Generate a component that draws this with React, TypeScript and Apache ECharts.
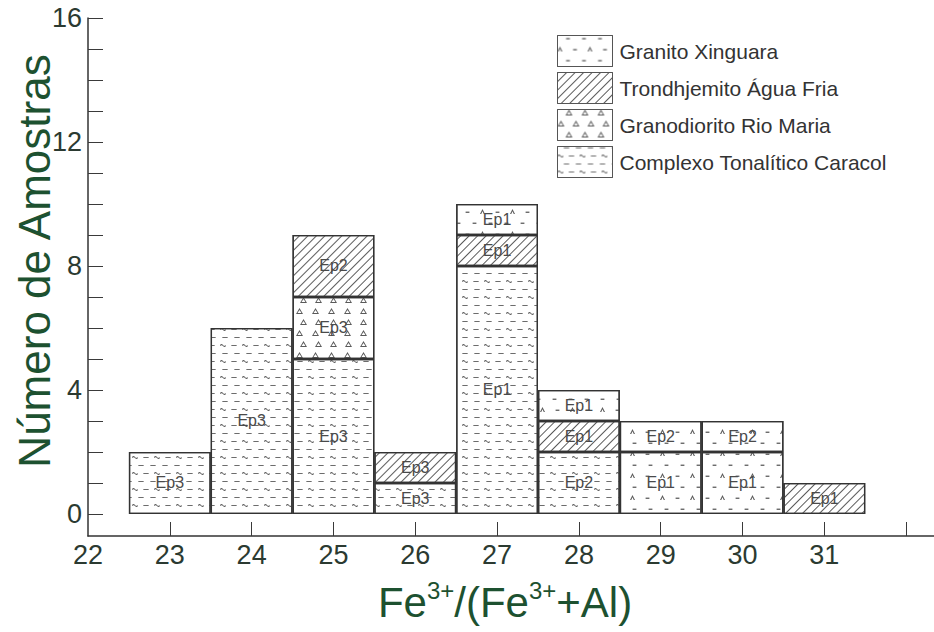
import React, { useEffect, useRef } from 'react';
import * as echarts from 'echarts';

// ---- data ----
const bins = ['23', '24', '25', '26', '27', '28', '29', '30', '31'];
const xLabelValues = [22, 23, 24, 25, 26, 27, 28, 29, 30, 31];
const xTickValues = [23, 24, 25, 26, 27, 28, 29, 30, 31, 32];
const yLabelValues = [0, 4, 8, 12, 16];
const yTickValues = [0, 1, 2, 3, 4, 5, 6, 7, 8, 9, 10, 11, 12, 13, 14, 15, 16];

const legendNames = [
  'Granito Xinguara',
  'Trondhjemito Água Fria',
  'Granodiorito Rio Maria',
  'Complexo Tonalítico Caracol',
];

const caracolCounts = [2, 6, 5, 1, 8, 2, null, null, null];
const caracolLabels = ['Ep3', 'Ep3', 'Ep3', 'Ep3', 'Ep1', 'Ep2', '', '', ''];
const granodioritoCounts = [null, null, 2, null, null, null, null, null, null];
const granodioritoLabels = ['', '', 'Ep3', '', '', '', '', '', ''];
const trondhjemitoCounts = [null, null, 2, 1, 1, 1, null, null, 1];
const trondhjemitoLabels = ['', '', 'Ep2', 'Ep3', 'Ep1', 'Ep1', '', '', 'Ep1'];
const xinguaraLowerCounts = [null, null, null, null, 1, 1, 2, 2, null];
const xinguaraLowerLabels = ['', '', '', '', 'Ep1', 'Ep1', 'Ep1', 'Ep1', ''];
const xinguaraUpperCounts = [null, null, null, null, null, null, 1, 1, null];
const xinguaraUpperLabels = ['', '', '', '', '', '', 'Ep2', 'Ep2', ''];

// ---- layout ----
const WIDTH = 934;
const HEIGHT = 632;
const X_MIN = 22;
const X_MAX = 32.34;
const Y_MIN = -0.71;
const Y_MAX = 16;
const GRID_LEFT = 88;
const GRID_RIGHT = 0;
const GRID_TOP = 18;
const GRID_BOTTOM = 96;
const PX_PER_UNIT = (WIDTH - GRID_LEFT - GRID_RIGHT) / (X_MAX - X_MIN);
const BAR_GRID_LEFT = GRID_LEFT + (Number(bins[0]) - 0.5 - X_MIN) * PX_PER_UNIT;
const BAR_GRID_WIDTH = bins.length * PX_PER_UNIT;

// ---- pattern shapes ----
const WAVE = 'path://M0,1.7 C1.5,0.2 3,0.2 4.5,1.7 C6,3.2 7.5,3.2 9,1.7 L9,3.3 C7.5,4.8 6,4.8 4.5,3.3 C3,1.8 1.5,1.8 0,3.3 Z';
const DASH = 'path://M0,0.2 M0.5,1.9 L8.5,1.9 L8.5,3.3 L0.5,3.3 Z M9,4.8';
const CARET = 'path://M0.3,6 L2.5,0.6 L4.7,6 L3.6,6 L2.5,3.1 L1.4,6 Z';
const SMALLDASH = 'path://M0,0.6 M0.6,3.4 L4.4,3.4 L4.4,4.8 L0.6,4.8 Z M5,6';
const TRI = 'path://M3,0 L6,5.4 L0,5.4 L3,0 L3,1.7 L1.3,4.5 L4.7,4.5 L3,1.7 Z';

const markColor = '#5a5a5a';

const caracolDecal = {
  symbol: [WAVE, DASH],
  symbolSize: 1,
  symbolKeepAspect: false,
  dashArrayX: [[5.5, 5], [0, 5.25, 5.5, 0]],
  dashArrayY: [2.4, 4.4],
  color: markColor,
};
const granodioritoDecal = {
  symbol: TRI,
  symbolSize: 1,
  symbolKeepAspect: false,
  dashArrayX: [[6.5, 8], [0, 7.25, 6.5, 0.75]],
  dashArrayY: [5.5, 5],
  color: markColor,
};
const trondhjemitoDecal = {
  symbol: 'rect',
  symbolSize: 1,
  symbolKeepAspect: false,
  dashArrayX: [1, 0],
  dashArrayY: [1, 5],
  rotation: -Math.PI / 4,
  color: markColor,
};
const xinguaraDecal = {
  symbol: [CARET, SMALLDASH],
  symbolSize: 1,
  symbolKeepAspect: false,
  dashArrayX: [[5, 10], [0, 7.5, 5, 2.5]],
  dashArrayY: [4.5, 6],
  color: markColor,
};

const FONT = '"Liberation Sans", Arial, Helvetica, sans-serif';

function makeSeries(name: string, counts: (number | null)[], labels: string[], decal: any) {
  return {
    type: 'bar',
    name,
    stack: 'total',
    xAxisIndex: 1,
    yAxisIndex: 1,
    barWidth: '100%',
    data: counts,
    itemStyle: {
      color: '#ffffff',
      borderColor: '#333333',
      borderWidth: 1.3,
      decal,
    },
    label: {
      show: true,
      position: 'inside',
      fontSize: 16,
      fontFamily: FONT,
      color: '#4a4a4a',
      formatter: (p: any) => labels[p.dataIndex] || '',
    },
    emphasis: { disabled: true },
  };
}

export default function App() {
  const ref = useRef<HTMLDivElement>(null);

  useEffect(() => {
    if (!ref.current) return;
    const chart = echarts.init(ref.current, undefined, { renderer: 'svg' });
    const option: any = {
      animation: false,
      backgroundColor: '#ffffff',
      textStyle: { fontFamily: FONT },
      grid: [
        { left: GRID_LEFT, right: GRID_RIGHT, top: GRID_TOP, bottom: GRID_BOTTOM, outerBoundsMode: 'none' },
        { left: BAR_GRID_LEFT, width: BAR_GRID_WIDTH, top: GRID_TOP, bottom: GRID_BOTTOM, outerBoundsMode: 'none' },
      ],
      legend: {
        orient: 'vertical',
        left: 557,
        top: 35,
        padding: 0,
        itemWidth: 55,
        itemHeight: 31,
        itemGap: 5,
        icon: 'rect',
        data: legendNames,
        selectedMode: false,
        itemStyle: { borderColor: '#555555', borderWidth: 1 },
        textStyle: { fontSize: 21, color: '#333333', fontFamily: FONT, padding: [0, 0, 0, 2] },
      },
      xAxis: [
        {
          type: 'value',
          gridIndex: 0,
          min: X_MIN,
          max: X_MAX,
          name: '{a|Fe}{s|3+}{a|/(Fe}{s|3+}{a|+Al)}',
          nameLocation: 'middle',
          nameGap: 42,
          nameMoveOverlap: false,
          nameTextStyle: {
            padding: [0, 12, 0, 0],
            rich: {
              a: { fontSize: 42, lineHeight: 48, color: '#1d5130', fontFamily: FONT },
              s: { fontSize: 24, lineHeight: 24, verticalAlign: 'top', color: '#1d5130', fontFamily: FONT },
            },
          },
          axisLine: { onZero: false, lineStyle: { color: '#333333', width: 1.5 } },
          axisTick: {
            inside: true,
            length: 14,
            customValues: xTickValues,
            lineStyle: { color: '#3a3a3a', width: 1 },
          },
          axisLabel: {
            customValues: xLabelValues,
            fontSize: 27,
            color: '#2b3a31',
            margin: 5,
            fontFamily: FONT,
          },
          splitLine: { show: false },
        },
        {
          type: 'category',
          gridIndex: 1,
          data: bins,
          show: false,
          boundaryGap: true,
        },
      ],
      yAxis: [
        {
          type: 'value',
          gridIndex: 0,
          min: Y_MIN,
          max: Y_MAX,
          name: 'Número de Amostras',
          nameLocation: 'middle',
          nameGap: 32,
          nameMoveOverlap: false,
          nameTextStyle: {
            fontSize: 44,
            color: '#1d5130',
            fontFamily: FONT,
            padding: [0, 0, 0, 32],
          },
          axisLine: { show: true, onZero: false, lineStyle: { color: '#333333', width: 1.5 } },
          axisTick: {
            show: true,
            inside: true,
            length: 15,
            customValues: yTickValues,
            lineStyle: { color: '#3a3a3a', width: 1 },
          },
          axisLabel: {
            customValues: yLabelValues,
            fontSize: 27,
            color: '#2b3a31',
            margin: 6,
            fontFamily: FONT,
          },
          splitLine: { show: false },
        },
        {
          type: 'value',
          gridIndex: 1,
          min: Y_MIN,
          max: Y_MAX,
          show: false,
          splitLine: { show: false },
        },
      ],
      series: [
        makeSeries(legendNames[3], caracolCounts, caracolLabels, caracolDecal),
        makeSeries(legendNames[2], granodioritoCounts, granodioritoLabels, granodioritoDecal),
        makeSeries(legendNames[1], trondhjemitoCounts, trondhjemitoLabels, trondhjemitoDecal),
        makeSeries(legendNames[0], xinguaraLowerCounts, xinguaraLowerLabels, xinguaraDecal),
        makeSeries(legendNames[0], xinguaraUpperCounts, xinguaraUpperLabels, xinguaraDecal),
      ],
    };
    chart.setOption(option);
    return () => chart.dispose();
  }, []);

  return (
    <div
      ref={ref}
      style={{ position: 'absolute', left: 0, top: 0, width: WIDTH, height: HEIGHT, background: '#fff' }}
    />
  );
}
